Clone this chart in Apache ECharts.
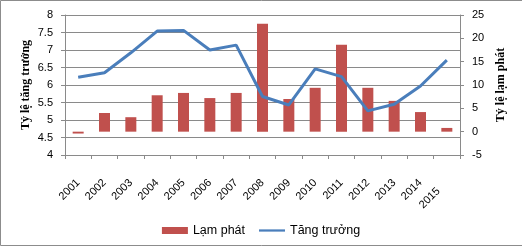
<!DOCTYPE html>
<html>
<head>
<meta charset="utf-8">
<script src="https://cdn.jsdelivr.net/npm/echarts@6/dist/echarts.min.js"></script>
<style>
html,body{margin:0;padding:0;background:#fff;}
#c{width:522px;height:247px;}
</style>
</head>
<body>
<div id="c"></div>
<script>
var years = ['2001','2002','2003','2004','2005','2006','2007','2008','2009','2010','2011','2012','2013','2014','2015'];
var lamPhat = [-0.4, 4.0, 3.1, 7.8, 8.3, 7.2, 8.3, 23.1, 7.0, 9.4, 18.6, 9.4, 6.6, 4.2, 0.8];
var tangTruong = [6.22, 6.35, 6.92, 7.54, 7.56, 7.0, 7.14, 5.67, 5.43, 6.46, 6.24, 5.26, 5.45, 5.97, 6.71];
var leftTicks = {min: 4, max: 8, interval: 0.5};
var rightTicks = {min: -5, max: 25, interval: 5};

var chart = echarts.init(document.getElementById('c'));
var gridColor = '#8a8a8a';
var font = 'Liberation Sans, Arial, sans-serif';
chart.setOption({
  animation: false,
  backgroundColor: '#fff',
  graphic: [{
    type: 'rect',
    shape: {x: 0.5, y: 0.5, width: 530, height: 245},
    style: {fill: 'none', stroke: '#8c8c8c', lineWidth: 1},
    silent: true
  }],
  grid: {left: 65, right: 62, top: 15, bottom: 92, containLabel: false},
  legend: {
    left: 'center',
    top: 219,
    itemGap: 14,
    itemWidth: 26,
    itemHeight: 7,
    textStyle: {fontFamily: font, fontSize: 12.5, color: '#000'},
    data: [
      {name: 'Lạm phát', icon: 'rect'},
      {name: 'Tăng trưởng', icon: 'path://M0,0L29,0L29,2.5L0,2.5Z'}
    ]
  },
  xAxis: {
    type: 'category',
    data: years,
    boundaryGap: true,
    axisLine: {onZero: false, lineStyle: {color: gridColor}},
    axisTick: {show: true, length: 4, alignWithLabel: false, lineStyle: {color: gridColor}},
    axisLabel: {
      interval: 0,
      rotate: 45,
      margin: 26,
      color: '#000',
      fontFamily: font,
      fontSize: 11,
      formatter: function (v, i) {
        return i === years.length - 1 ? '{s|' + v + '}' : v;
      },
      rich: {s: {padding: [0, 12, 0, 0], fontFamily: font, fontSize: 11, color: '#000'}}
    }
  },
  yAxis: [{
    type: 'value',
    min: leftTicks.min, max: leftTicks.max, interval: leftTicks.interval,
    position: 'left',
    name: 'Tỷ lệ tăng trưởng',
    nameLocation: 'middle',
    nameRotate: 90,
    nameGap: 33,
    nameMoveOverlap: false,
    nameTextStyle: {fontFamily: 'Liberation Serif, Times New Roman, serif', fontWeight: 'bold', fontSize: 12, color: '#000'},
    axisLine: {show: true, lineStyle: {color: gridColor}},
    axisTick: {show: true, length: 4, lineStyle: {color: gridColor}},
    axisLabel: {margin: 12, color: '#000', fontFamily: font, fontSize: 11},
    splitLine: {show: true, lineStyle: {color: gridColor, width: 1}}
  }, {
    type: 'value',
    min: rightTicks.min, max: rightTicks.max, interval: rightTicks.interval,
    position: 'right',
    name: 'Tỷ lệ lạm phát',
    nameLocation: 'middle',
    nameRotate: 90,
    nameGap: 35,
    nameMoveOverlap: false,
    nameTextStyle: {fontFamily: 'Liberation Serif, Times New Roman, serif', fontWeight: 'bold', fontSize: 12, color: '#000'},
    axisLine: {show: true, lineStyle: {color: gridColor}},
    axisTick: {show: true, length: 4, lineStyle: {color: gridColor}},
    axisLabel: {margin: 12, color: '#000', fontFamily: font, fontSize: 11},
    splitLine: {show: false}
  }],
  series: [{
    name: 'Lạm phát',
    type: 'bar',
    yAxisIndex: 1,
    data: lamPhat,
    barWidth: 11,
    itemStyle: {color: '#C0504D'}
  }, {
    name: 'Tăng trưởng',
    type: 'line',
    yAxisIndex: 0,
    data: tangTruong,
    showSymbol: false,
    symbol: 'none',
    lineStyle: {color: '#4A7EBB', width: 3},
    itemStyle: {color: '#4A7EBB'}
  }]
});
</script>
</body>
</html>
